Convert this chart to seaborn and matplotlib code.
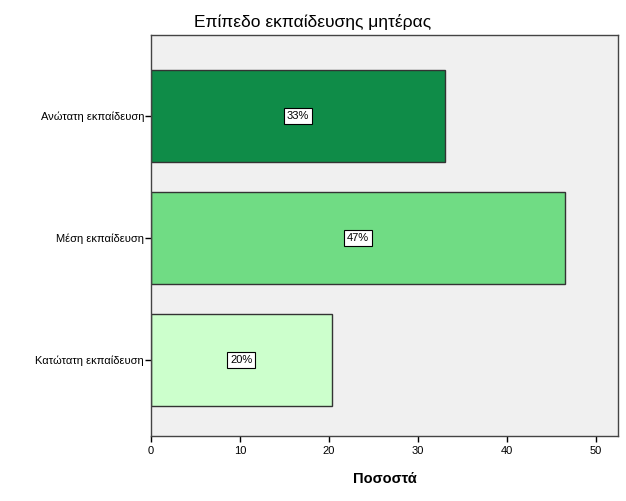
import matplotlib
matplotlib.use("Agg")
import matplotlib.pyplot as plt
import seaborn as sns
import pandas as pd

categories = ["Ανώτατη εκπαίδευση", "Μέση εκπαίδευση", "Κατώτατη εκπαίδευση"]
percent = [33.1, 46.5, 20.3]
labels = ["33%", "47%", "20%"]
colors = ["#0f8c48", "#70dc84", "#ccffcc"]

sns.set_style("white")
plt.rcParams["font.family"] = ["Liberation Sans", "DejaVu Sans"]
plt.rcParams["text.color"] = "black"

df = pd.DataFrame({"cat": categories, "pct": percent})

fig = plt.figure(figsize=(6.26, 5.01), dpi=100)
ax = fig.add_axes([151/626, 1-436/501, (618-151)/626, (436-35)/501])
ax.set_facecolor("#f0f0f0")

sns.barplot(data=df, x="pct", y="cat", hue="cat", palette=colors, legend=False,
            width=0.754, edgecolor="#333333", linewidth=1.0, ax=ax, saturation=1)

for i, (v, lab) in enumerate(zip(percent, labels)):
    ax.text(v/2, i, lab, ha="center", va="center", fontsize=8, color="black",
            bbox=dict(boxstyle="square,pad=0.25", fc="white", ec="black", lw=0.8))

ax.set_xlim(0, 52.5)
ax.set_ylim(2.623, -0.664)
ax.set_xticks([0, 10, 20, 30, 40, 50])
ax.tick_params(axis="both", labelsize=8, length=4, width=1, direction="out",
               bottom=True, left=True, colors="#000000")
ax.tick_params(axis="y", pad=1)
ax.tick_params(axis="x", pad=3)
ax.set_ylabel("")
ax.set_xlabel("Ποσοστά", fontsize=10.5, fontweight="bold", labelpad=12, color="black")
for s in ax.spines.values():
    s.set_color("#444444")
    s.set_linewidth(1)
fig.text(313/626, 1 - 22/501, "Επίπεδο εκπαίδευσης μητέρας", ha="center", va="center",
         fontsize=12.5, color="black")

fig.savefig("out.png", dpi=100, facecolor="white")
